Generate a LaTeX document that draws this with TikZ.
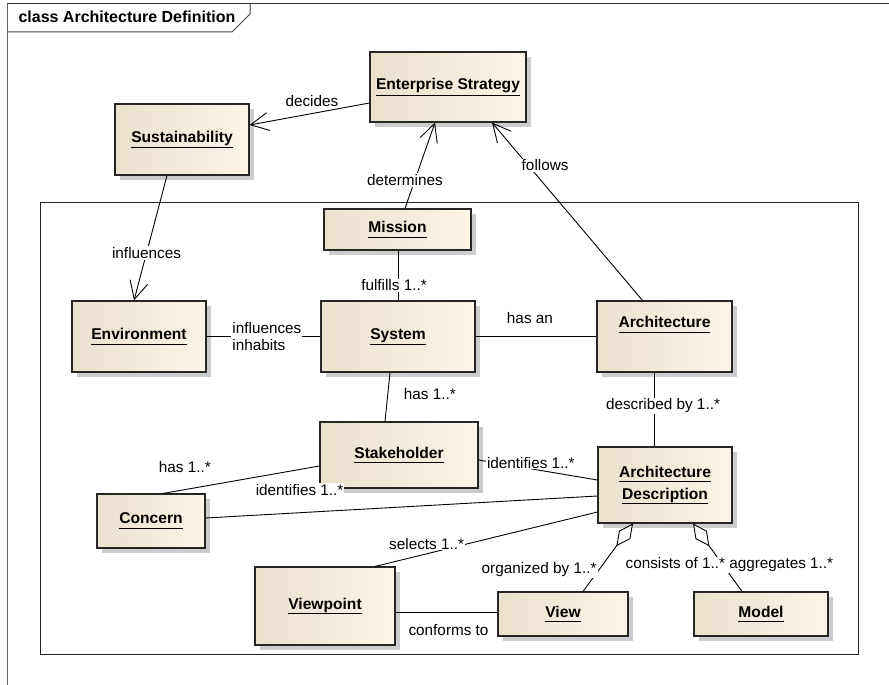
\documentclass[tikz,border=0pt]{standalone}
\usepackage{fontspec}
\setmainfont{Liberation Sans}
\usetikzlibrary{arrows.meta,shadows}
\definecolor{beigeleft}{RGB}{234,224,206}
\definecolor{beigeright}{RGB}{252,245,231}
\newcommand{\classname}[1]{\underline{#1\vphantom{y}}}

\begin{document}
\begin{tikzpicture}[x=1pt, y=-1pt,
    umlclass/.style={draw=black!85, line width=1.1pt, left color=beigeleft, right color=beigeright,
      drop shadow={shadow xshift=5pt, shadow yshift=-5pt, fill=black!20, opacity=1},
      inner sep=0pt, align=center, font=\fontsize{15.6}{22}\selectfont\bfseries},
    rel/.style={line width=0.9pt, black},
    nav/.style={rel, -{Straight Barb[length=18pt, width=18pt, line width=0.9pt]}},
    agg/.style={rel, {Diamond[length=28pt, width=14pt, fill=white, line width=0.9pt]}-},
    lbl/.style={font=\fontsize{15.3}{17}\selectfont, fill=white, inner sep=1pt}]

  \useasboundingbox (0,0) rectangle (889,685);

  % diagram frame
  \draw[line width=1pt, black!60] (7,685) -- (7,4);
  \draw[line width=1pt, black!80] (7,4) -- (889,4);
  \draw[line width=1pt, black!75] (7,32) -- (232,32) -- (250,14) -- (250,4);
  \node[anchor=base west, font=\fontsize{16}{18}\selectfont\bfseries] (title) at (15,23) {class Architecture Definition};

  % package boundary
  \draw[line width=1pt, black!85] (40,202) rectangle (858,654);

  % classes
  \node[umlclass, minimum width=156, minimum height=70] (strategy) at (448,87) {\classname{Enterprise Strategy}};
  \node[umlclass, minimum width=134, minimum height=71] (sustain) at (182,139.5) {\classname{Sustainability}};
  \node[umlclass, minimum width=147, minimum height=41] (mission) at (397.5,229.5) {\classname{Mission}};
  \node[umlclass, minimum width=134, minimum height=71] (environment) at (139,336.5) {\classname{Environment}};
  \node[umlclass, minimum width=154, minimum height=71] (system) at (398,336.5) {\classname{System}};
  \node[umlclass, minimum width=135, minimum height=71, text depth=30pt] (architecture) at (664.5,336.5) {\classname{Architecture}};
  \node[umlclass, minimum width=158, minimum height=66] (stakeholder) at (399,455) {\classname{Stakeholder}};
  \node[umlclass, minimum width=134, minimum height=76] (ad) at (665,485) {\classname{Architecture}\\\classname{Description}};
  \node[umlclass, minimum width=108, minimum height=54] (concern) at (151,521) {\classname{Concern}};
  \node[umlclass, minimum width=140, minimum height=78] (viewpoint) at (325,606) {\classname{Viewpoint}};
  \node[umlclass, minimum width=130, minimum height=44] (view) at (563,614) {\classname{View}};
  \node[umlclass, minimum width=134, minimum height=44] (model) at (761,614) {\classname{Model}};

  % relations
  \draw[nav] ([yshift=-16pt]strategy.west) -- ([yshift=14.5pt]sustain.east)
    node[lbl, pos=0.48, yshift=12.5pt] {decides};
  \draw[nav] ([xshift=7.5pt]mission.north) -- ([xshift=-13pt]strategy.south)
    node[lbl, pos=0.33, xshift=-10pt] {determines};
  \draw[nav] ([xshift=-22pt]architecture.north) -- ([xshift=44pt]strategy.south)
    node[lbl, pos=0.76, xshift=17pt] {follows};
  \draw[nav] ([xshift=-15pt]sustain.south) -- ([xshift=-5pt]environment.north)
    node[lbl, pos=0.62] {influences};
  \draw[rel] (environment.east) -- (system.west)
    node[lbl, pos=0.53, align=left] {influences\\inhabits};
  \draw[rel] (system.east) -- (architecture.west)
    node[lbl, pos=0.45, yshift=18.5pt] {has an};
  \draw[rel] ([xshift=0.5pt]mission.south) -- (system.north)
    node[lbl, pos=0.7, xshift=-4pt] {fulfills 1..*};
  \draw[rel] ([xshift=-10.5pt]architecture.south) -- ([xshift=-11pt]ad.north)
    node[lbl, pos=0.45, xshift=9pt] {described by 1..*};
  \draw[rel] ([xshift=-8pt]system.south) -- ([xshift=-14pt]stakeholder.north)
    node[lbl, pos=0.44, xshift=42pt] {has 1..*};
  \draw[rel] ([yshift=-5pt]stakeholder.east) -- ([yshift=5pt]ad.west)
    node[lbl, pos=0.44, yshift=6pt] {identifies 1..*};
  \draw[rel] ([yshift=-11pt]stakeholder.west) -- ([xshift=12pt]concern.north)
    node[lbl, pos=0.86, yshift=23pt] {has 1..*};
  \draw[rel] ([yshift=3pt]concern.east) -- ([yshift=-11pt]ad.west)
    node[lbl, pos=0.24, yshift=22.7pt] {identifies 1..*};
  \draw[rel] ([xshift=50pt]viewpoint.north) -- ([yshift=-27pt]ad.west)
    node[lbl, pos=0.25, yshift=9pt, xshift=-4pt] {selects 1..*};
  \draw[rel] ([yshift=-6pt]viewpoint.east) -- ([yshift=2pt]view.west)
    node[lbl, pos=0.52, yshift=-18pt] {conforms to};
  \draw[agg] ([xshift=-32pt]ad.south) -- ([xshift=20pt]view.north)
    node[lbl, pos=0.68, left=1pt] {organized by 1..*};
  \draw[agg] ([xshift=28pt]ad.south) -- ([xshift=-19pt]model.north)
    node[lbl, pos=0.61, xshift=6.5pt] {consists of 1..* aggregates 1..*};
\end{tikzpicture}
\end{document}
